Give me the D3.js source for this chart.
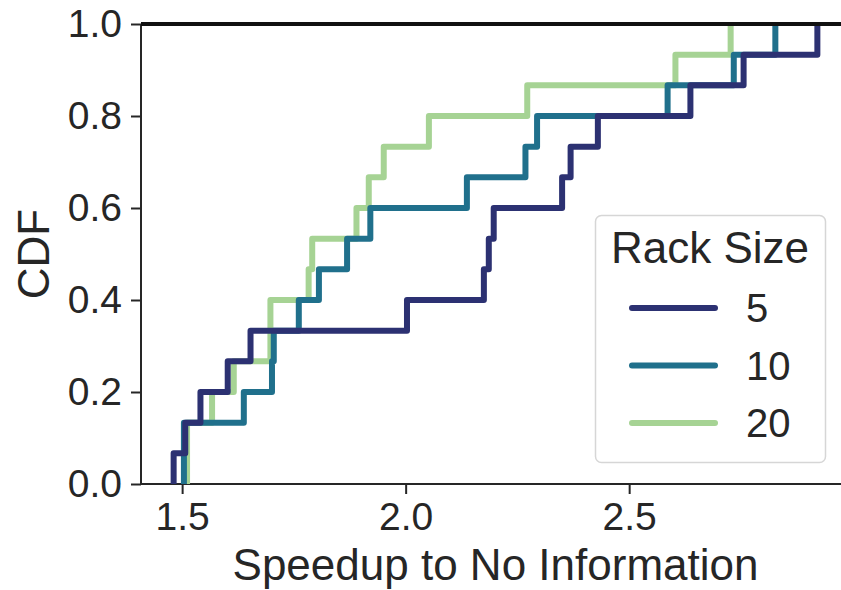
<!DOCTYPE html>
<html>
<head>
<meta charset="utf-8">
<script src="https://cdn.jsdelivr.net/npm/d3@7"></script>
<style>
  html, body { margin: 0; padding: 0; background: #fff; }
  svg { display: block; font-family: "Liberation Sans", Arial, sans-serif; }
</style>
</head>
<body>
<svg id="chart" width="841" height="590"></svg>
<script>
// Speedup samples per rack size (15 runs each)
const rackSizes = ["5", "10", "20"];
const speedup5  = [1.481, 1.507, 1.541, 1.602, 1.653, 2.003, 2.175, 2.186, 2.197, 2.350, 2.369, 2.430, 2.637, 2.756, 2.921];
const speedup10 = [1.504, 1.504, 1.638, 1.701, 1.705, 1.761, 1.806, 1.869, 1.921, 2.137, 2.268, 2.294, 2.586, 2.734, 2.827];
const speedup20 = [1.511, 1.511, 1.567, 1.6155, 1.6975, 1.6975, 1.783, 1.791, 1.890, 1.9175, 1.951, 2.052, 2.272, 2.6035, 2.727];
const colors = ["#2c3172", "#20708c", "#a6d394"];
const xTicks = [1.5, 2.0, 2.5];
const yTicks = [0, 0.2, 0.4, 0.6, 0.8, 1.0];

const seriesList = [speedup5, speedup10, speedup20];
const ink = "#262626";

const svg = d3.select("#chart");
const plotLeft = 141, plotRight = 850, plotTop = 24, plotBottom = 484;

const x = d3.scaleLinear().domain([1.408, 2.994]).range([plotLeft, plotRight]);
const y = d3.scaleLinear().domain([0, 1]).range([plotBottom, plotTop]);

// Axes
const xAxis = d3.axisBottom(x).tickValues(xTicks).tickFormat(d3.format(".1f")).tickSize(10).tickPadding(8);
const yAxis = d3.axisLeft(y).tickValues(yTicks).tickFormat(d3.format(".1f")).tickSize(10).tickPadding(9);

const gx = svg.append("g").attr("transform", `translate(0,${plotBottom})`).call(xAxis);
const gy = svg.append("g").attr("transform", `translate(${plotLeft},0)`).call(yAxis);

[gx, gy].forEach(g => {
  g.select(".domain").attr("stroke", ink).attr("stroke-width", 2);
  g.selectAll(".tick line").attr("stroke", ink).attr("stroke-width", 2);
  g.selectAll(".tick text").attr("fill", ink).attr("font-size", 39)
    .attr("font-family", "'Liberation Sans', Arial, sans-serif");
});
gx.select(".domain").attr("d", `M${plotLeft},0H${plotRight}`);
gy.select(".domain").attr("d", `M0,${plotBottom}V${plotTop}`);

// ECDF step lines: last series drawn first so the smallest rack size sits on top
const line = d3.line()
  .x(d => x(d[0]))
  .y(d => y(d[1]))
  .curve(d3.curveStepAfter);

const ecdfPoints = vals => {
  const sorted = vals.slice().sort(d3.ascending);
  const n = sorted.length;
  const pts = [[sorted[0], 0]];
  sorted.forEach((v, i) => pts.push([v, (i + 1) / n]));
  return pts;
};

const order = [2, 1, 0];
svg.append("g").selectAll("path")
  .data(order)
  .join("path")
  .attr("d", i => line(ecdfPoints(seriesList[i])))
  .attr("fill", "none")
  .attr("stroke", i => colors[i])
  .attr("stroke-width", 6)
  .attr("stroke-linejoin", "round");

// Reference line at CDF = 1
svg.append("line")
  .attr("x1", plotLeft).attr("x2", plotRight)
  .attr("y1", y(1)).attr("y2", y(1))
  .attr("stroke", "#111").attr("stroke-width", 4);

// Axis titles
svg.append("text")
  .attr("x", (plotLeft + plotRight) / 2).attr("y", 580)
  .attr("text-anchor", "middle")
  .attr("font-size", 44).attr("fill", ink)
  .text("Speedup to No Information");

svg.append("text")
  .attr("transform", `translate(49,${(plotTop + plotBottom) / 2}) rotate(-90)`)
  .attr("text-anchor", "middle")
  .attr("font-size", 44).attr("fill", ink)
  .text("CDF");

// Legend
const lg = svg.append("g");
lg.append("rect")
  .attr("x", 595.5).attr("y", 215.5).attr("width", 230).attr("height", 247)
  .attr("rx", 6).attr("fill", "#fff").attr("fill-opacity", 0.8)
  .attr("stroke", "#d6d6d6").attr("stroke-width", 1.5);
lg.append("text")
  .attr("x", 710).attr("y", 263)
  .attr("text-anchor", "middle")
  .attr("font-size", 44).attr("fill", ink)
  .text("Rack Size");
const legendY = d3.scalePoint().domain(rackSizes).range([308, 423]);
rackSizes.forEach((name, i) => {
  lg.append("line")
    .attr("x1", 632).attr("x2", 715)
    .attr("y1", legendY(name)).attr("y2", legendY(name))
    .attr("stroke", colors[i]).attr("stroke-width", 6)
    .attr("stroke-linecap", "round");
  lg.append("text")
    .attr("x", 746).attr("y", legendY(name) + 14)
    .attr("font-size", 40).attr("fill", ink)
    .text(name);
});
</script>
</body>
</html>
